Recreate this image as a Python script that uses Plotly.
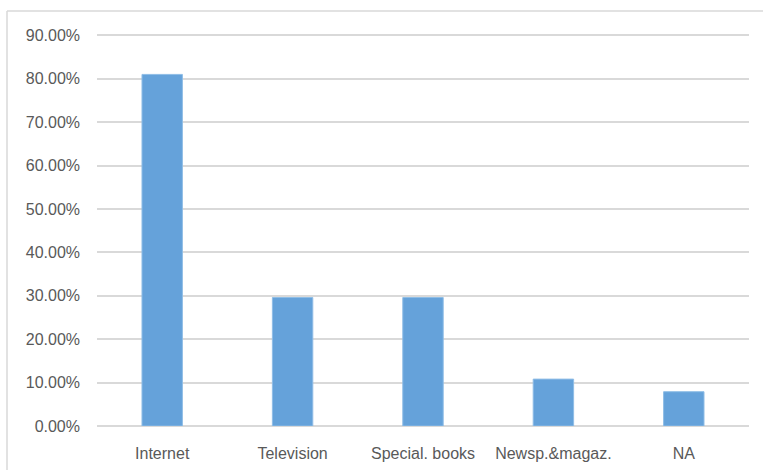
import plotly.graph_objects as go

categories = ["Internet", "Television", "Special. books", "Newsp.&magaz.", "NA"]
values = [0.810, 0.296, 0.296, 0.108, 0.079]
y_ticks = [0, 0.1, 0.2, 0.3, 0.4, 0.5, 0.6, 0.7, 0.8, 0.9]

W, H = 763, 470
ml, mr, mt, mb = 97, 14, 31, 44
pw, ph = W - ml - mr, H - mt - mb

fig = go.Figure(go.Bar(
    x=categories, y=values,
    marker=dict(color="#65a2da", line=dict(color="#8fbde6", width=1)),
    width=0.31,
))

bx = (7 - ml) / pw
by = 1 + (mt - 11) / ph
fig.add_shape(type="line", xref="paper", yref="paper", x0=bx, x1=bx, y0=by, y1=-0.3,
              line=dict(color="#d9d9d9", width=1.5))
fig.add_shape(type="line", xref="paper", yref="paper", x0=bx, x1=1.1, y0=by, y1=by,
              line=dict(color="#d9d9d9", width=1.5))

fig.update_layout(
    width=W, height=H,
    margin=dict(l=ml, r=mr, t=mt, b=mb),
    paper_bgcolor="white", plot_bgcolor="white",
    font=dict(family="Liberation Sans, Arial, sans-serif", size=16, color="#595959"),
    showlegend=False,
    xaxis=dict(showgrid=False, showline=False, ticks="", ticklabelstandoff=16, automargin=False,
               tickfont=dict(size=16, color="#595959")),
    yaxis=dict(range=[0, 0.91], tickvals=y_ticks, tickformat=".2%", showgrid=True, automargin=False,
               gridcolor="#d9d9d9", gridwidth=1.5, zeroline=True, zerolinecolor="#d9d9d9",
               zerolinewidth=1.5, showline=False, ticks="", ticklen=0, ticklabelstandoff=16,
               tickfont=dict(size=16, color="#595959")),
)

fig.write_html("out.html")
